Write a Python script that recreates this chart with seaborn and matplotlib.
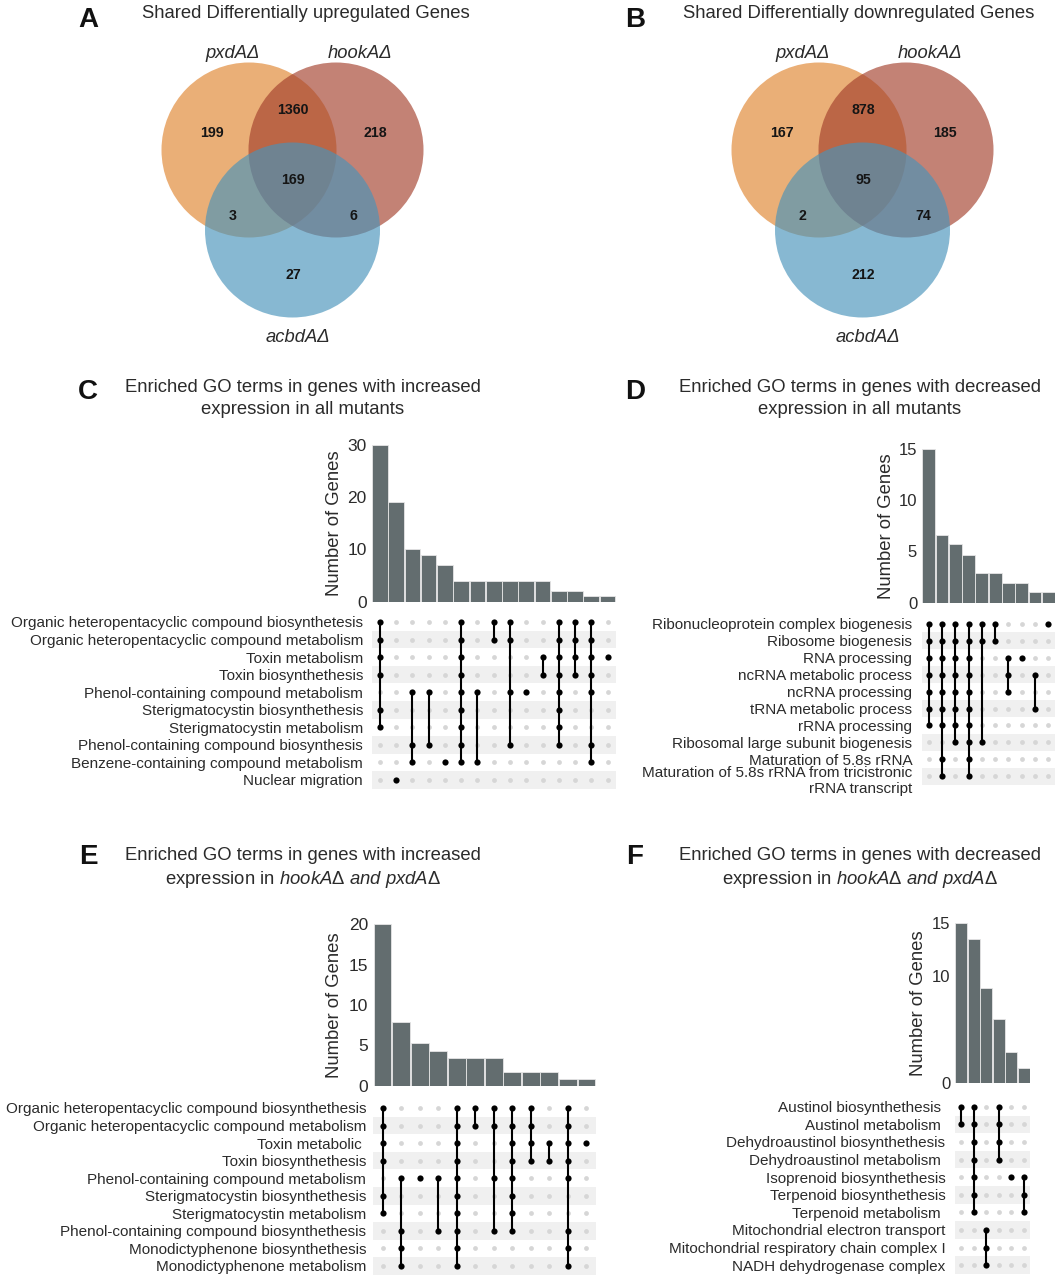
import numpy as np
import pandas as pd
import seaborn as sns
import matplotlib.pyplot as plt
import matplotlib.transforms as mtrans
from matplotlib.patches import Circle

sns.set_style('white')
plt.rcParams['font.family'] = ['Liberation Sans', 'DejaVu Sans']
plt.rcParams['mathtext.fontset'] = 'custom'
plt.rcParams['mathtext.rm'] = 'Liberation Sans'
plt.rcParams['mathtext.it'] = 'Liberation Sans:italic'

W, H = 1060, 1280
TXT = '#2b2b2b'
BAR = '#636d6f'
STRIPE = '#f0f0f0'
EMPTY = '#d6d6d6'
VENN_COLS = ['#e0842f', '#a33f2c', '#4793ba']

# ---- Venn data (A, B) ----
venn_sets = ['pxdAΔ', 'hookAΔ', 'acbdAΔ']
# regions: pxd only, pxd&hook, hook only, all three, pxd&acbd, hook&acbd, acbd only
up_counts = [199, 1360, 218, 169, 3, 6, 27]
down_counts = [167, 878, 185, 95, 2, 74, 212]

# ---- C: increased in all mutants ----
c_terms = ['Organic heteropentacyclic compound biosynthetesis',
           'Organic heteropentacyclic compound metabolism',
           'Toxin metabolism',
           'Toxin biosynthethesis',
           'Phenol-containing compound metabolism',
           'Sterigmatocystin biosynthethesis',
           'Sterigmatocystin metabolism',
           'Phenol-containing compound biosynthesis',
           'Benzene-containing compound metabolism',
           'Nuclear migration']
c_counts = [30, 19, 10, 9, 7, 4, 4, 4, 4, 4, 4, 2, 2, 1, 1]
c_sets = [[0, 1, 2, 3, 5, 6], [9], [4, 7, 8], [4, 7], [8],
          [0, 1, 2, 3, 4, 5, 6, 7, 8], [4, 8], [0, 1], [0, 1, 4, 7], [4],
          [2, 3], [0, 1, 2, 3, 4, 5, 6, 7], [0, 1, 2, 3], [0, 1, 2, 3, 4, 7, 8], [2]]

# ---- D: decreased in all mutants ----
d_terms = ['Ribonucleoprotein complex biogenesis',
           'Ribosome biogenesis',
           'RNA processing',
           'ncRNA metabolic process',
           'ncRNA processing',
           'tRNA metabolic process',
           'rRNA processing',
           'Ribosomal large subunit biogenesis',
           'Maturation of 5.8s rRNA',
           'Maturation of 5.8s rRNA from tricistronic\nrRNA transcript']
d_counts = [15, 6.6, 5.7, 4.7, 2.85, 2.85, 1.9, 1.9, 1, 1]
d_sets = [[0, 1, 2, 3, 4, 5, 6], [0, 1, 2, 3, 4, 5, 6, 8, 9], [0, 1, 2, 3, 4, 5, 6, 7],
          [0, 1, 2, 3, 4, 5, 6, 7, 8, 9], [0, 1, 7], [0, 1], [2, 3, 4], [2], [3, 5], [0]]

# ---- E: increased in hookA and pxdA ----
e_terms = ['Organic heteropentacyclic compound biosynthethesis',
           'Organic heteropentacyclic compound metabolism',
           'Toxin metabolic ',
           'Toxin biosynthethesis',
           'Phenol-containing compound metabolism',
           'Sterigmatocystin biosynthethesis',
           'Sterigmatocystin metabolism',
           'Phenol-containing compound biosynthethesis',
           'Monodictyphenone biosynthethesis',
           'Monodictyphenone metabolism']
e_counts = [20, 7.85, 5.25, 4.35, 3.45, 3.45, 3.45, 1.7, 1.7, 1.7, 0.85, 0.85]
e_sets = [[0, 1, 2, 3, 5, 6], [4, 7, 8, 9], [4], [4, 7], [0, 1, 2, 3, 4, 5, 6, 7, 8, 9],
          [0, 1], [0, 1, 4, 7], [0, 1, 2, 3, 4, 5, 6, 7], [0, 1, 2, 3], [2, 3],
          [0, 1, 2, 3, 4, 7, 8, 9], [2]]

# ---- F: decreased in hookA and pxdA ----
f_terms = ['Austinol biosynthethesis ',
           'Austinol metabolism ',
           'Dehydroaustinol biosynthethesis',
           'Dehydroaustinol metabolism ',
           'Isoprenoid biosynthethesis',
           'Terpenoid biosynthethesis',
           'Terpenoid metabolism ',
           'Mitochondrial electron transport',
           'Mitochondrial respiratory chain complex I',
           'NADH dehydrogenase complex']
f_counts = [15, 13.5, 8.9, 6, 2.9, 1.35]
f_sets = [[0, 1], [0, 1, 2, 3, 4, 5, 6], [7, 8, 9], [0, 1, 2, 3], [4], [4, 5, 6]]


def px_box(l, t, r, b):
    return [l / W, 1 - b / H, (r - l) / W, (b - t) / H]


fig = plt.figure(figsize=(W / 100, H / 100), dpi=100)
bg = fig.add_axes([0, 0, 1, 1])
bg.set_xlim(0, W)
bg.set_ylim(H, 0)
bg.axis('off')
bg.patch.set_alpha(0)


def venn(cx, counts, title, title_x):
    centers = [(cx - 43.5, 150), (cx + 43.5, 150), (cx, 230)]
    for (x, y), col in zip(centers, VENN_COLS):
        bg.add_patch(Circle((x, y), 87.5, facecolor=col, alpha=0.65, lw=0))
    offs = [(-80.8, 133), (0.5, 110), (82.5, 133), (0.5, 180),
            (-60, 215.5), (60.5, 215.5), (0.5, 275)]
    for (dx, y), v in zip(offs, counts):
        bg.text(cx + dx, y, str(v), ha='center', va='center', fontsize=10.2,
                fontweight='bold', color='#151515')
    lab_xy = [(cx - 60, 53), (cx + 68, 53), (cx + 5, 337)]
    for (x, y), s in zip(lab_xy, venn_sets):
        bg.text(x, y, s, ha='center', va='center', fontsize=13.2,
                style='italic', color=TXT)
    bg.text(title_x, 14, title, ha='center', va='center', fontsize=13.3, color=TXT)


venn(292.5, up_counts, 'Shared Differentially upregulated Genes', 306)
venn(862.5, down_counts, 'Shared Differentially downregulated Genes', 859)


def upset(terms, counts, sets, yticks, x0, x1, bar_top, bar_base,
          row0, row_step, lab_pad, ylab_x, lab_fs=11, tick_fs=12.5, ylab_fs=13.3):
    n = len(counts)
    nr = len(terms)

    # bar chart of intersection sizes
    axb = fig.add_axes(px_box(x0, bar_top, x1, bar_base))
    sns.barplot(x=list(range(n)), y=counts, color=BAR, saturation=1, width=0.96,
                edgecolor='#e6e6e6', linewidth=0.6, ax=axb)
    axb.set_xlim(-0.5, n - 0.5)
    axb.set_ylim(0, yticks[-1])
    axb.set_yticks(yticks)
    axb.set_yticklabels([str(t) for t in yticks])
    axb.set_xticks([])
    axb.set_xlabel('')
    axb.set_ylabel('Number of Genes', fontsize=ylab_fs, color=TXT)
    axb.yaxis.set_label_coords((ylab_x - x0) / (x1 - x0), 0.5)
    axb.tick_params(axis='y', length=0, pad=3.5, labelsize=tick_fs, labelcolor=TXT)
    axb.patch.set_alpha(0)
    sns.despine(ax=axb, left=True, bottom=True)

    # membership matrix
    axm = fig.add_axes(px_box(x0, row0 - row_step / 2, x1, row0 + row_step * (nr - 0.5)))
    for r in range(1, nr, 2):
        axm.axhspan(r - 0.5, r + 0.5, color=STRIPE, lw=0, zorder=0)
    grid = pd.DataFrame([(c, r) for c in range(n) for r in range(nr)], columns=['col', 'row'])
    sns.scatterplot(data=grid, x='col', y='row', color=EMPTY, s=12, linewidth=0,
                    ax=axm, zorder=2, legend=False)
    hits = pd.DataFrame([(c, r) for c, rows in enumerate(sets) for r in rows],
                        columns=['col', 'row'])
    span = hits.groupby('col')['row'].agg(['min', 'max']).reset_index()
    axm.vlines(span['col'], span['min'], span['max'], color='black', lw=1.5, zorder=3)
    sns.scatterplot(data=hits, x='col', y='row', color='black', s=20, linewidth=0,
                    ax=axm, zorder=4, legend=False)
    axm.set_xlim(-0.5, n - 0.5)
    axm.set_ylim(nr - 0.5, -0.5)
    axm.set_xticks([])
    axm.set_yticks(range(nr))
    axm.set_yticklabels(terms)
    axm.set_xlabel('')
    axm.set_ylabel('')
    axm.tick_params(axis='y', length=0, pad=lab_pad, labelsize=lab_fs, labelcolor=TXT)
    # a wrapped term: first line sits on its row, second line hangs below
    for lab in axm.get_yticklabels():
        if '\n' in lab.get_text():
            lab.set_va('top')
            lab.set_transform(lab.get_transform() +
                              mtrans.ScaledTranslation(0, 7.5 / 72, fig.dpi_scale_trans))
    sns.despine(ax=axm, left=True, bottom=True)


upset(c_terms, c_counts, c_sets, [0, 10, 20, 30], 371.7, 615.7, 445, 601.7,
      622, 17.55, 6.3, 343)
upset(d_terms, d_counts, d_sets, [0, 5, 10, 15], 922, 1055, 449, 602.7,
      624, 16.9, 7, 895, tick_fs=12)
upset(e_terms, e_counts, e_sets, [0, 5, 10, 15, 20], 373.3, 595.7, 924.3, 1085.7,
      1108, 17.55, 5, 343)
upset(f_terms, f_counts, f_sets, [0, 10, 15], 955, 1030.3, 923.3, 1082.7,
      1106.7, 17.6, 7, 927, tick_fs=12)

# panel titles
TFS = 13.3
bg.text(303, 387, 'Enriched GO terms in genes with increased', ha='center', va='center',
        fontsize=TFS, color=TXT)
bg.text(303, 410, 'expression in all mutants', ha='center', va='center',
        fontsize=TFS, color=TXT)
bg.text(860, 387, 'Enriched GO terms in genes with decreased', ha='center', va='center',
        fontsize=TFS, color=TXT)
bg.text(860, 410, 'expression in all mutants', ha='center', va='center',
        fontsize=TFS, color=TXT)
bg.text(303, 856, 'Enriched GO terms in genes with increased', ha='center', va='center',
        fontsize=TFS, color=TXT)
bg.text(303, 879, r'expression in $\mathit{hookA\Delta\ and\ pxdA\Delta}$', ha='center',
        va='center', fontsize=TFS, color=TXT)
bg.text(860, 856, 'Enriched GO terms in genes with decreased', ha='center', va='center',
        fontsize=TFS, color=TXT)
bg.text(860, 879, r'expression in $\mathit{hookA\Delta\ and\ pxdA\Delta}$', ha='center',
        va='center', fontsize=TFS, color=TXT)

# panel letters
for letter, x, y in [('A', 88, 20), ('B', 635, 20), ('C', 88, 392),
                     ('D', 635, 392), ('E', 88, 857), ('F', 635, 857)]:
    bg.text(x, y, letter, ha='center', va='center', fontsize=20,
            fontweight='bold', color='#111111')

fig.savefig('out.png', dpi=100)
